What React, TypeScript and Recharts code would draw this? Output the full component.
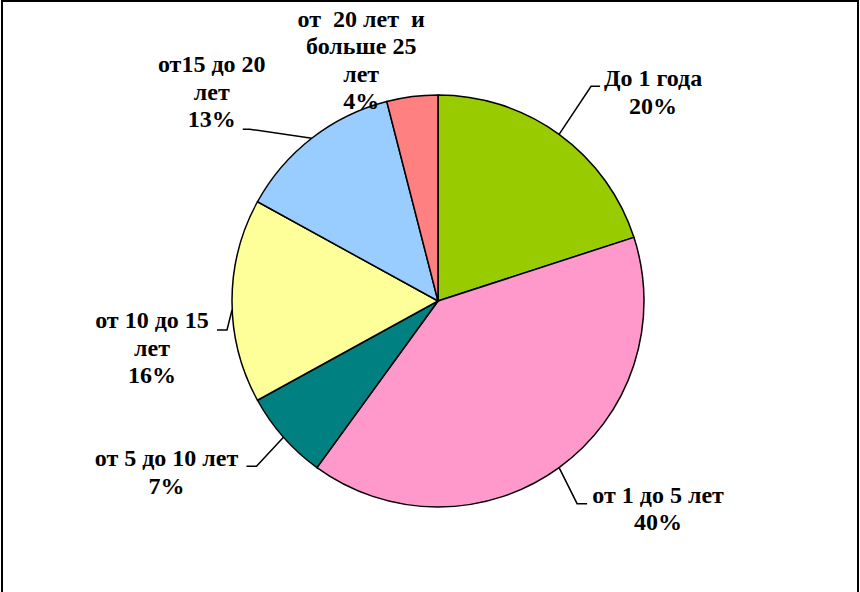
import { PieChart, Pie, Cell } from 'recharts';

const categories = [
  'До 1 года',
  'от 1 до 5 лет',
  'от 5 до 10 лет',
  'от 10 до 15\nлет',
  'от15 до 20\nлет',
  'от  20 лет  и\nбольше 25\nлет',
];
const shares = [20, 40, 7, 16, 13, 4];
const colors = ['#99CC00', '#FF99CC', '#008080', '#FFFF99', '#99CCFF', '#FF8080'];

// label placement relative to the slice edge point (text x/first baseline, leader elbow, leader end)
const labelLayout = [
  { tx: 94, ty: -48, ex: 32, ey: -48, hx: 41, sy: 0 },
  { tx: 99, ty: 35, ex: 18, ey: 36, hx: 28, sy: 0 },
  { tx: -117, ty: 29, ex: -27, ey: 29, hx: -37, sy: 0 },
  { tx: -80, ty: 27, ex: -5, ey: 29, hx: -15, sy: 9 },
  { tx: -100, ty: -66, ex: -62, ey: -9, hx: -69, sy: 0 },
  { tx: -51, ty: -70, ex: 0, ey: 0, hx: 0, sy: 0, noLine: true },
];

const data = categories.map((name, i) => ({ name, value: shares[i] }));
const RADIAN = Math.PI / 180;
const LINE_H = 27.5;
const FONT = '"Times New Roman", "Liberation Serif"';

const renderLabel = (props: any) => {
  const { cx, cy, midAngle, outerRadius, index, value } = props;
  const px = cx + outerRadius * Math.cos(-midAngle * RADIAN);
  const py = cy + outerRadius * Math.sin(-midAngle * RADIAN);
  const l = labelLayout[index];
  const lines = [...categories[index].split('\n'), `${value}%`].map((t) => t.replace(/ {2}/g, ' \u00A0'));
  return (
    <g key={`lbl-${index}`}>
      {!l.noLine && (
        <polyline
          points={`${px},${py + l.sy} ${px + l.ex},${py + l.ey} ${px + l.hx},${py + l.ey}`}
          fill="none"
          stroke="#000"
          strokeWidth={1.5}
        />
      )}
      {lines.map((t, k) => (
        <text
          key={k}
          x={px + l.tx}
          y={py + l.ty + k * LINE_H}
          textAnchor="middle"
          fill="#000"
          style={{ fontFamily: FONT, fontWeight: 'bold', fontSize: 24 }}
        >
          {t}
        </text>
      ))}
    </g>
  );
};

export default function App() {
  return (
    <div
      style={{
        position: 'absolute',
        left: 0,
        top: 0,
        width: 860,
        height: 592,
        background: '#fff',
        overflow: 'hidden',
        fontFamily: FONT,
        fontWeight: 'bold',
      }}
    >
      <span style={{ position: 'absolute', left: 300, top: 560, color: '#fff', fontSize: 24 }}>от 1 до 5 лет 40%</span>
      <div
        style={{
          position: 'absolute',
          left: 1,
          top: 0,
          width: 858,
          height: 620,
          boxSizing: 'border-box',
          borderTop: '2px solid #000',
          borderLeft: '2px solid #000',
          borderRight: '2px solid #000',
        }}
      />
      <div style={{ position: 'absolute', left: 0, top: 0 }}>
        <PieChart width={860} height={592} margin={{ top: 0, right: 0, bottom: 0, left: 0 }}>
          <Pie
            data={data}
            dataKey="value"
            nameKey="name"
            cx={438}
            cy={301}
            outerRadius={206}
            startAngle={90}
            endAngle={-270}
            stroke="#000"
            strokeWidth={1.5}
            labelLine={false}
            label={renderLabel}
            isAnimationActive={false}
          >
            {data.map((d, i) => (
              <Cell key={d.name} fill={colors[i]} />
            ))}
          </Pie>
        </PieChart>
      </div>
    </div>
  );
}
